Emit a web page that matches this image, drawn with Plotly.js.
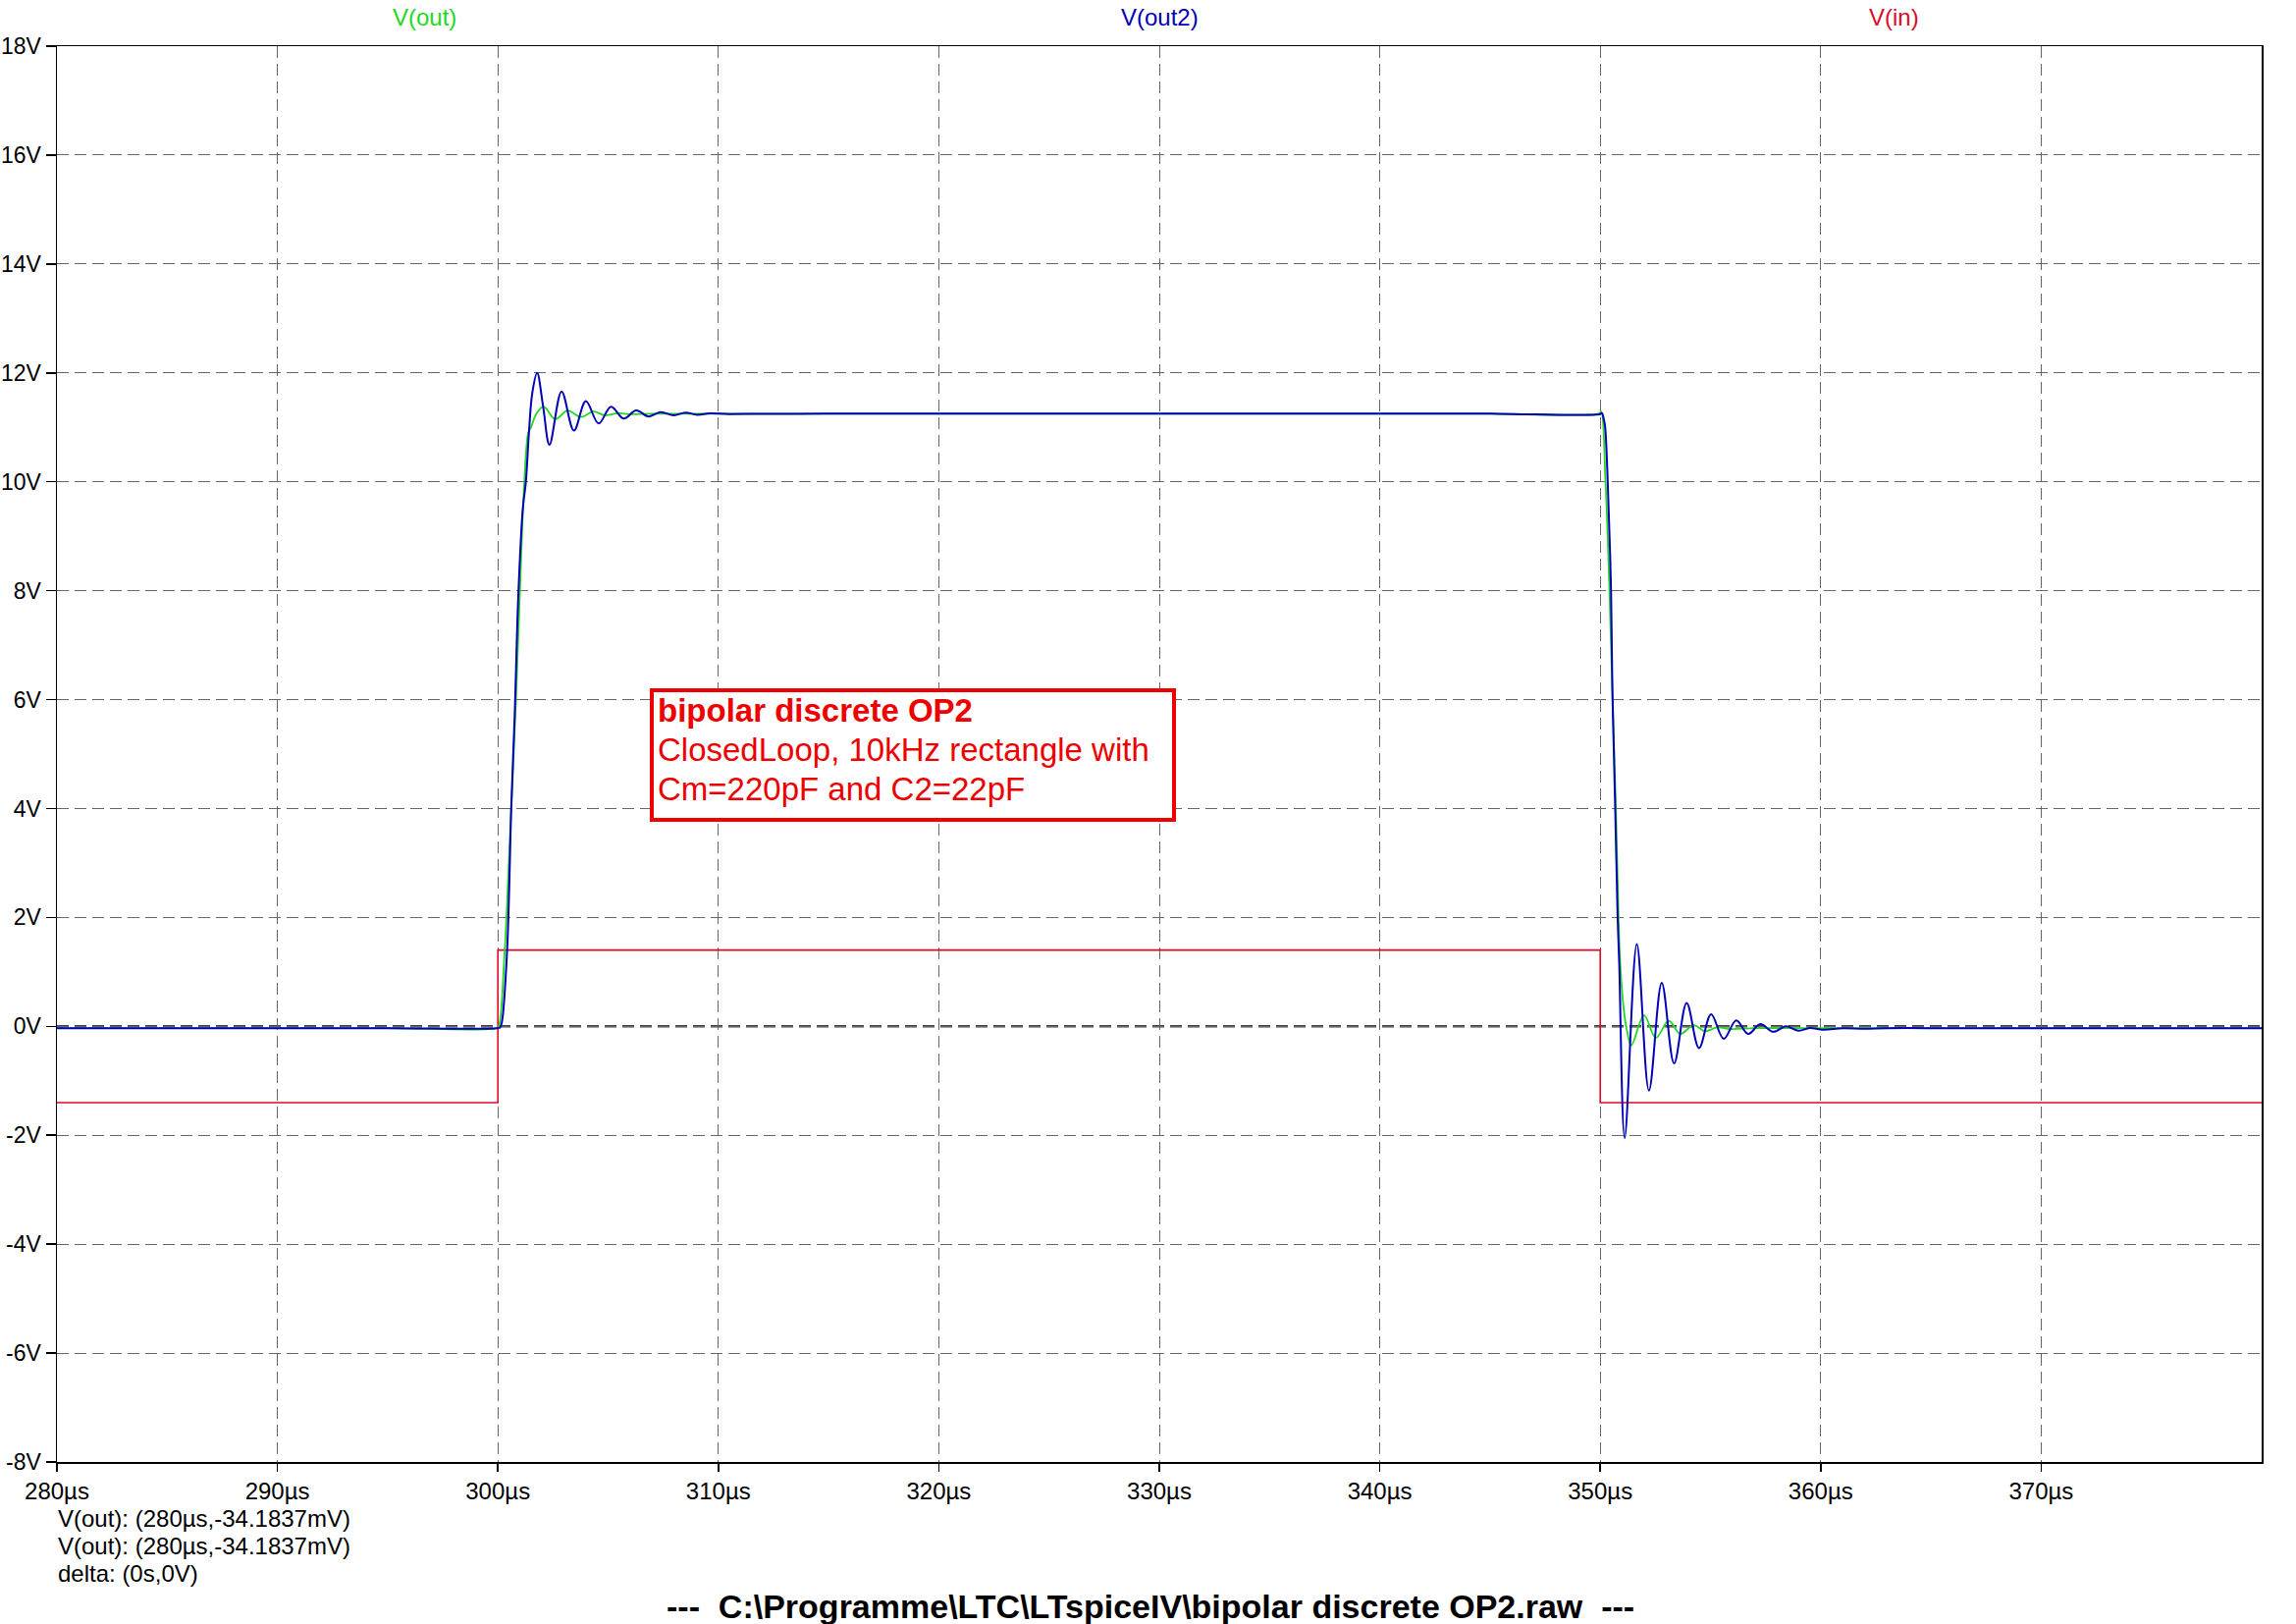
<!DOCTYPE html>
<html><head><meta charset="utf-8">
<script src="https://cdn.plot.ly/plotly-3.0.1.min.js"></script>
<style>html,body{margin:0;padding:0;background:#fff}</style>
</head><body><div id="chart" style="width:2339px;height:1654px"></div>
<script>
// time in µs, voltage in V
const vinT = [280, 300, 300, 350, 350, 380];
const vinV = [-1.4, -1.4, 1.4, 1.4, -1.4, -1.4];

const voutT = [280, 285, 290, 295, 299.95, 300.04, 300.31, 300.52, 300.82, 301.0, 301.2, 301.38, 301.5, 301.75, 302.07, 302.6, 303.16, 303.75, 304.34, 304.86, 305.46, 306.0, 307.0, 310, 315, 320, 325, 330, 335, 340, 345, 349.95, 350.04, 350.24, 350.42, 350.56, 350.71, 350.83, 350.9, 351.0, 351.1, 351.2, 351.41, 351.99, 352.52, 353.11, 353.63, 354.23, 354.76, 355.3, 355.9, 357.0, 360, 365, 370, 375, 380];
const voutV = [-0.034, -0.034, -0.034, -0.034, -0.034, 0.0, 1.4, 3.2, 6.0, 8.0, 10.0, 10.9, 11.0, 11.25, 11.38, 11.15, 11.31, 11.19, 11.29, 11.22, 11.26, 11.24, 11.25, 11.25, 11.25, 11.25, 11.25, 11.25, 11.25, 11.25, 11.25, 11.25, 11.29, 10.0, 8.0, 6.0, 4.0, 2.0, 1.2, 0.6, 0.2, -0.05, -0.35, 0.20, -0.21, 0.10, -0.14, 0.02, -0.09, -0.02, -0.05, -0.034, -0.034, -0.034, -0.034, -0.034, -0.034];

const vout2T = [280, 285, 290, 295, 299.95, 300.1, 300.19, 300.42, 300.61, 300.76, 300.93, 301.13, 301.27, 301.41, 301.56, 301.78, 302.05, 302.34, 302.89, 303.45, 303.99, 304.57, 305.13, 305.71, 306.27, 306.84, 307.38, 307.98, 308.5, 309.05, 309.6, 310.5, 315, 320, 325, 330, 335, 340, 345, 349.95, 350.08, 350.16, 350.22, 350.34, 350.49, 350.56, 350.68, 350.79, 350.86, 351.11, 351.66, 352.21, 352.79, 353.35, 353.92, 354.48, 355.03, 355.6, 356.17, 356.71, 357.26, 357.85, 358.42, 359.0, 359.5, 360.1, 361, 362, 363, 366, 370, 375, 380];
const vout2V = [-0.034, -0.034, -0.034, -0.034, -0.034, -0.02, 0.1, 1.4, 4.06, 5.68, 7.95, 9.5, 10.0, 10.91, 11.63, 12.0, 11.39, 10.68, 11.66, 10.94, 11.48, 11.07, 11.38, 11.16, 11.31, 11.20, 11.28, 11.22, 11.27, 11.23, 11.255, 11.245, 11.25, 11.25, 11.25, 11.25, 11.25, 11.25, 11.25, 11.24, 11.26, 11.15, 11.02, 10.0, 8.0, 6.0, 4.0, 2.0, 1.18, -2.05, 1.51, -1.18, 0.80, -0.68, 0.43, -0.40, 0.22, -0.23, 0.11, -0.14, 0.04, -0.10, 0.0, -0.08, -0.03, -0.06, -0.035, -0.045, -0.034, -0.034, -0.034, -0.034, -0.034];

const xTickVals = [280, 290, 300, 310, 320, 330, 340, 350, 360, 370];
const xTickText = ["280µs", "290µs", "300µs", "310µs", "320µs", "330µs", "340µs", "350µs", "360µs", "370µs"];
const yTickVals = [-8, -6, -4, -2, 0, 2, 4, 6, 8, 10, 12, 14, 16, 18];
const yTickText = ["-8V", "-6V", "-4V", "-2V", "0V", "2V", "4V", "6V", "8V", "10V", "12V", "14V", "16V", "18V"];

const traceNames = ["V(out)", "V(out2)", "V(in)"];
const cursorLines = ["V(out): (280µs,-34.1837mV)", "V(out): (280µs,-34.1837mV)", "delta: (0s,0V)"];
const noteLines = ["bipolar discrete OP2", "ClosedLoop, 10kHz rectangle with", "Cm=220pF and C2=22pF"];
const fileTitle = "---  C:\\Programme\\LTC\\LTspiceIV\\bipolar discrete OP2.raw  ---";

const GREEN = "#22d822", BLUE = "#0000b4", RED = "#dc0a28", TXTRED = "#ee0000";
const FONT = "Liberation Sans, Arial, sans-serif";

const W = 2339, H = 1654;
const L = 58, R = 2304, T = 47, B = 1489;
const pw = R - L, ph = B - T;
const px = x => (x - L) / pw;
const py = y => 1 - (y - T) / ph;

const data = [
  {x: vinT, y: vinV, mode: "lines", line: {color: RED, width: 1.6, shape: "linear"}, name: traceNames[2]},
  {x: voutT, y: voutV, mode: "lines", line: {color: GREEN, width: 1.8, shape: "spline", smoothing: 1}, name: traceNames[0]},
  {x: vout2T, y: vout2V, mode: "lines", line: {color: BLUE, width: 2, shape: "spline", smoothing: 1}, name: traceNames[1]}
];

const anns = [
  {text: traceNames[0], color: GREEN, x: 1/6},
  {text: traceNames[1], color: BLUE, x: 0.5},
  {text: traceNames[2], color: RED, x: 5/6}
].map(a => ({xref: "paper", yref: "paper", x: a.x, y: py(17), xanchor: "center", yanchor: "middle",
  text: a.text, showarrow: false, font: {family: FONT, size: 24, color: a.color}}));

const cursorY = [1546, 1574, 1602];
cursorLines.forEach((t, i) => anns.push({xref: "paper", yref: "paper", x: px(57), y: py(cursorY[i]),
  xanchor: "left", yanchor: "middle", text: t, showarrow: false, font: {family: FONT, size: 24, color: "#000"}}));

const noteY = [723, 763, 803];
noteLines.forEach((t, i) => anns.push({xref: "paper", yref: "paper", x: px(668), y: py(noteY[i]),
  xanchor: "left", yanchor: "middle", text: i === 0 ? "<b>" + t + "</b>" : t, showarrow: false,
  font: {family: FONT, size: 33, color: TXTRED}}));

anns.push({xref: "paper", yref: "paper", x: px(1172), y: py(1636), xanchor: "center", yanchor: "middle",
  text: "<b>" + fileTitle + "</b>", showarrow: false, font: {family: FONT, size: 34, color: "#000"}});

const axisCommon = {
  showline: true, mirror: true, linecolor: "#000", linewidth: 1.5,
  ticks: "outside", tickwidth: 1.5, tickcolor: "#000",
  showgrid: true, gridcolor: "#666666", gridwidth: 1, griddash: "12px,6px",
  zeroline: false, fixedrange: true
};

const layout = {
  width: W, height: H,
  margin: {l: L, r: W - R, t: T, b: H - B, pad: 0},
  paper_bgcolor: "#fff", plot_bgcolor: "#fff",
  showlegend: false,
  xaxis: Object.assign({}, axisCommon, {range: [280, 380], tickmode: "array", tickvals: xTickVals, ticktext: xTickText,
    ticklen: 8, tickfont: {family: FONT, size: 24, color: "#000"}}),
  yaxis: Object.assign({}, axisCommon, {range: [-8, 18], tickmode: "array", tickvals: yTickVals, ticktext: yTickText,
    ticklen: 10, tickfont: {family: FONT, size: 23, color: "#000"}}),
  shapes: [
    {type: "line", xref: "paper", yref: "y", x0: 0, x1: 1, y0: 0, y1: 0,
      line: {color: "#404040", width: 2.5, dash: "12px,6px"}, layer: "below"},
    {type: "rect", xref: "paper", yref: "paper", x0: px(664), x1: px(1196), y0: py(835), y1: py(703),
      line: {color: TXTRED, width: 4}, fillcolor: "rgba(255,255,255,1)", layer: "above"}
  ],
  annotations: anns
};

Plotly.newPlot("chart", data, layout, {displayModeBar: false, staticPlot: true});
</script>
</body></html>
